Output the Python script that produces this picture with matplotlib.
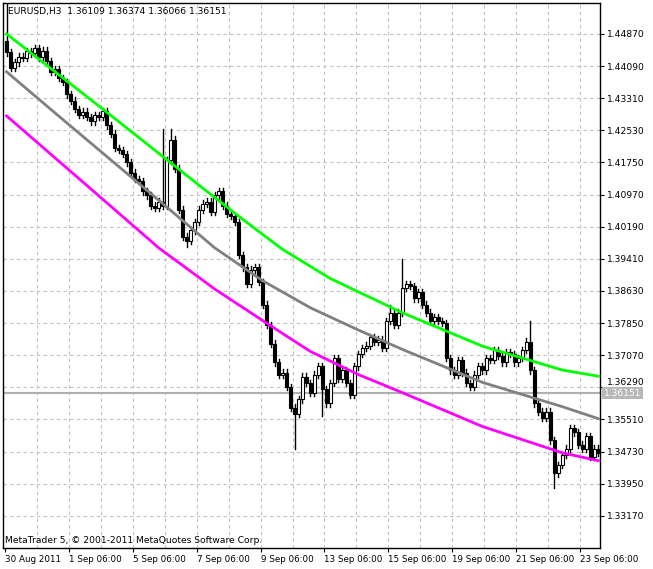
import matplotlib
matplotlib.use("Agg")
import matplotlib.pyplot as plt
from matplotlib.patches import Rectangle

# close prices, one per H3 bar
closes = [1.4442, 1.4405, 1.4418, 1.4432, 1.4428, 1.4445, 1.4440, 1.4452, 1.4430, 1.4446,
          1.4420, 1.4395, 1.4402, 1.4380, 1.4370, 1.4340, 1.4325, 1.4305, 1.4290, 1.4298,
          1.4285, 1.4275, 1.4290, 1.4285, 1.4300, 1.4265, 1.4245, 1.4210, 1.4205, 1.4195,
          1.4175, 1.4150, 1.4135, 1.4130, 1.4105, 1.4095, 1.4070, 1.4065, 1.4080, 1.4070,
          1.4180, 1.4230, 1.4160, 1.4060, 1.3995, 1.3985, 1.4010, 1.4030, 1.4060, 1.4075,
          1.4080, 1.4055, 1.4095, 1.4105, 1.4070, 1.4050, 1.4045, 1.4030, 1.3950, 1.3920,
          1.3880, 1.3915, 1.3920, 1.3885, 1.3830, 1.3780, 1.3735, 1.3690, 1.3660, 1.3665,
          1.3630, 1.3580, 1.3565, 1.3600, 1.3655, 1.3640, 1.3615, 1.3660, 1.3680, 1.3625,
          1.3590, 1.3640, 1.3700, 1.3650, 1.3670, 1.3640, 1.3610, 1.3680, 1.3710, 1.3725,
          1.3730, 1.3750, 1.3740, 1.3745, 1.3725, 1.3790, 1.3810, 1.3780, 1.3810, 1.3870,
          1.3880, 1.3875, 1.3845, 1.3860, 1.3830, 1.3810, 1.3790, 1.3800, 1.3790, 1.3785,
          1.3700, 1.3670, 1.3660, 1.3695, 1.3665, 1.3640, 1.3630, 1.3660, 1.3680, 1.3670,
          1.3700, 1.3695, 1.3720, 1.3705, 1.3690, 1.3715, 1.3710, 1.3690, 1.3700, 1.3720,
          1.3740, 1.3670, 1.3590, 1.3570, 1.3555, 1.3570, 1.3500, 1.3420, 1.3440, 1.3465,
          1.3480, 1.3530, 1.3520, 1.3490, 1.3480, 1.3510, 1.3460, 1.3480, 1.3470]
first_open = 1.4470
# wick extension beyond the body, plus individual spikes
wick = 0.0008
high_spikes = {0: 1.4560, 39: 1.4256, 41: 1.4256, 99: 1.3940, 131: 1.3790, 96: 1.3830}
low_spikes = {72: 1.3480, 137: 1.3385, 45: 1.3970, 79: 1.3560}

# moving averages (bar index, price)
green_x = [0, 12, 24, 36, 49, 60, 69, 81, 99, 119, 139, 148]
green_y = [1.4487, 1.4396, 1.4305, 1.4213, 1.4113, 1.4030, 1.3964, 1.3893, 1.3810, 1.3729, 1.3671, 1.3656]
gray_x = [0, 12, 24, 36, 52, 64, 76, 88, 99, 119, 139, 148]
gray_y = [1.4395, 1.4296, 1.4198, 1.4100, 1.3968, 1.3888, 1.3822, 1.3768, 1.3721, 1.3641, 1.3582, 1.3553]
magenta_x = [0, 12, 24, 38, 52, 65, 76, 88, 99, 119, 139, 148]
magenta_y = [1.4288, 1.4187, 1.4086, 1.3968, 1.3868, 1.3785, 1.3716, 1.3660, 1.3616, 1.3534, 1.3470, 1.3451]

price_ticks = [1.44870, 1.44090, 1.43310, 1.42530, 1.41750, 1.40970, 1.40190, 1.39410,
               1.38630, 1.37850, 1.37070, 1.36290, 1.35510, 1.34730, 1.33950, 1.33170]
date_labels = ["30 Aug 2011", "1 Sep 06:00", "5 Sep 06:00", "7 Sep 06:00", "9 Sep 06:00",
               "13 Sep 06:00", "15 Sep 06:00", "19 Sep 06:00", "21 Sep 06:00", "23 Sep 06:00"]
date_pos = [-0.5, 15.5, 31.5, 47.5, 63.5, 79.5, 95.5, 111.5, 127.5, 143.5]
day_lines = [7.5 + 8 * k for k in range(18)]
last_price = 1.36151

fig = plt.figure(figsize=(6.53, 5.69), dpi=100)
ax = fig.add_axes([3 / 653, 1 - 548 / 569, 597 / 653, 545 / 569])
ax.set_xlim(-0.9, 148.4)
ax.set_ylim(1.3239, 1.4562)

for p in price_ticks:
    ax.axhline(p, color="#c0c0c0", lw=0.8, ls=(0, (3, 3)), zorder=0)
for d in day_lines:
    ax.axvline(d, color="#c0c0c0", lw=0.8, ls=(0, (3, 3)), zorder=0)

opens = [first_open] + closes[:-1]
for i, (o, c) in enumerate(zip(opens, closes)):
    hi = high_spikes.get(i, max(o, c) + wick)
    lo = low_spikes.get(i, min(o, c) - wick)
    ax.plot([i, i], [lo, hi], color="black", lw=1, zorder=2)
    bottom = min(o, c)
    h = max(abs(c - o), 0.0002)
    face = "white" if c >= o else "black"
    ax.add_patch(Rectangle((i - 0.4, bottom), 0.8, h, facecolor=face, edgecolor="black", lw=0.8, zorder=3))

ax.plot(green_x, green_y, color="#00ff00", lw=2, zorder=4)
ax.plot(gray_x, gray_y, color="#808080", lw=2, zorder=4)
ax.plot(magenta_x, magenta_y, color="#ff00ff", lw=2, zorder=4)

ax.axhline(last_price, color="#b0b0b0", lw=1.5, zorder=1)

ax.yaxis.tick_right()
ax.set_yticks(price_ticks)
ax.set_yticklabels(["%.5f" % p if abs(p - 1.36290) > 1e-6 else "" for p in price_ticks], fontsize=6.6)
ax.text(1.006, last_price, "1.36151", transform=ax.get_yaxis_transform(), color="white",
        fontsize=6.6, va="center", ha="left",
        bbox=dict(facecolor="#b8b8b8", edgecolor="none", pad=1.2))
ax.text(1.012, 1.36290 + 0.0012, "1.36290", transform=ax.get_yaxis_transform(),
        fontsize=6.6, va="center", ha="left", clip_on=False, zorder=0)
ax.set_xticks(date_pos)
ax.set_xticklabels(date_labels, fontsize=6.3, ha="left")
ax.tick_params(length=3, pad=2)
for s in ax.spines.values():
    s.set_linewidth(1)

ax.text(0.008, 0.993, "EURUSD,H3  1.36109 1.36374 1.36066 1.36151", transform=ax.transAxes,
        fontsize=6.6, va="top", ha="left")
ax.text(0.003, 0.006, "MetaTrader 5, © 2001-2011 MetaQuotes Software Corp.", transform=ax.transAxes,
        fontsize=6.6, va="bottom", ha="left")

fig.savefig("out.png", dpi=100)
